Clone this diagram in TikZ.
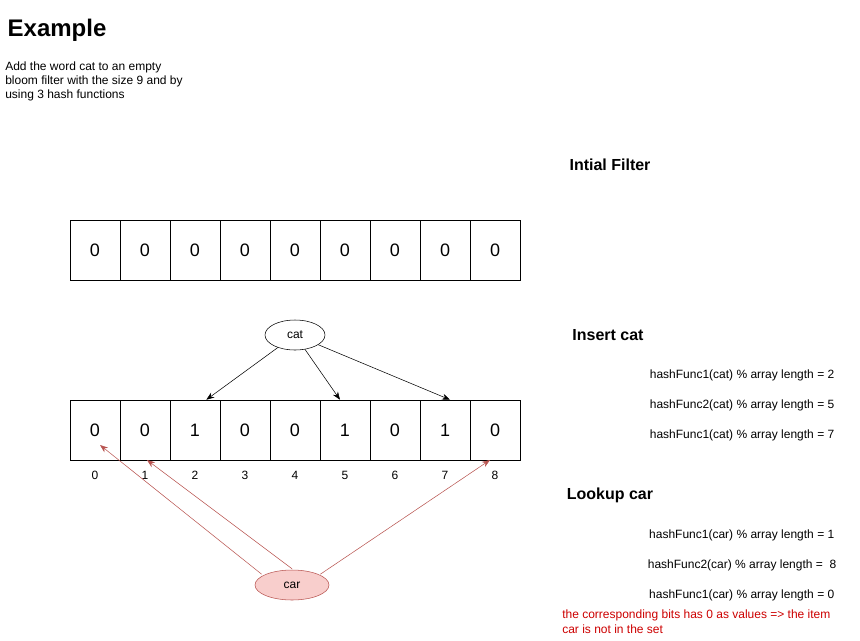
\documentclass[tikz,border=0pt]{standalone}
\usepackage{fontspec}
\setmainfont{Liberation Sans}
\usetikzlibrary{shapes.geometric,arrows.meta}
\definecolor{redtxt}{HTML}{CC0000}
\definecolor{carfill}{HTML}{F8CECC}
\definecolor{carline}{HTML}{B85450}
\tikzset{
  cell/.style={draw,minimum width=37.5pt,minimum height=45pt,inner sep=0pt,font=\fontsize{13.5}{15}\selectfont},
  idx/.style={font=\fontsize{9}{10}\selectfont},
  head/.style={font=\bfseries\fontsize{12}{14}\selectfont},
  hash/.style={font=\fontsize{9}{10}\selectfont,anchor=east},
  blk/.style={-{Stealth[length=6pt]}},
  redarr/.style={carline,-{Stealth[length=6pt]}},
}
\begin{document}
\begin{tikzpicture}[x=0.75pt,y=-0.75pt]
\useasboundingbox (0,0) rectangle (860,640);
\node[anchor=west,font=\bfseries\fontsize{18}{20}\selectfont] (title) at (3,30) {Example};
\node[anchor=north west,align=left,inner sep=0pt,font=\fontsize{9}{10.5}\selectfont] (desc) at (5,62) {Add the word cat to an empty\\bloom filter with the size 9 and by\\using 3 hash functions};
\foreach \i in {0,...,8}{
  \node[cell] (t\i) at (95+50*\i,250) {0};
}
\foreach \v [count=\c from 0] in {0,0,1,0,0,1,0,1,0}{
  \node[cell] (b\c) at (95+50*\c,430) {\v};
  \node[idx] (n\c) at (95+50*\c,475) {\c};
}
\node[head] (h1) at (610,165) {Intial Filter};
\node[head] (h2) at (608,335) {Insert cat};
\node[head] (h3) at (610,495) {Lookup car};
\node[draw,ellipse,minimum width=45pt,minimum height=22.5pt,inner sep=0pt,font=\fontsize{9}{10}\selectfont] (cat) at (295,335) {cat};
\node[draw=carline,fill=carfill,ellipse,minimum width=55.5pt,minimum height=22.5pt,inner sep=0pt,font=\fontsize{9}{10}\selectfont] (car) at (292,585) {car};
\draw[blk] (cat) -- ([xshift=8.5pt]b2.north);
\draw[blk] (cat) -- ([xshift=-3.75pt]b5.north);
\draw[blk] (cat) -- ([xshift=3.75pt]b7.north);
\coordinate (r0) at (100,445);
\coordinate (r1) at (147,460);
\coordinate (r8) at (490,460);
\draw[redarr] (car.north west) ++(-4,0) -- (r0);
\draw[redarr] (car.north) ++(0,-1) -- (r1);
\draw[redarr] (car.north east) ++(2,0) -- (r8);
\node[hash] (f1) at (839,375) {hashFunc1(cat) \% array length = 2};
\node[hash] (f2) at (839,405) {hashFunc2(cat) \% array length = 5};
\node[hash] (f3) at (839,435) {hashFunc1(cat) \% array length = 7};
\node[hash] (g1) at (839,535) {hashFunc1(car) \% array length = 1};
\node[hash] (g2) at (841,565) {hashFunc2(car) \% array length = ~8};
\node[hash] (g3) at (839,595) {hashFunc1(car) \% array length = 0};
\node[anchor=north west,align=left,inner sep=0pt,text=redtxt,font=\fontsize{9}{11}\selectfont] (note) at (562,610) {the corresponding bits has 0 as values => the item\\car is not in the set};
\end{tikzpicture}
\end{document}
